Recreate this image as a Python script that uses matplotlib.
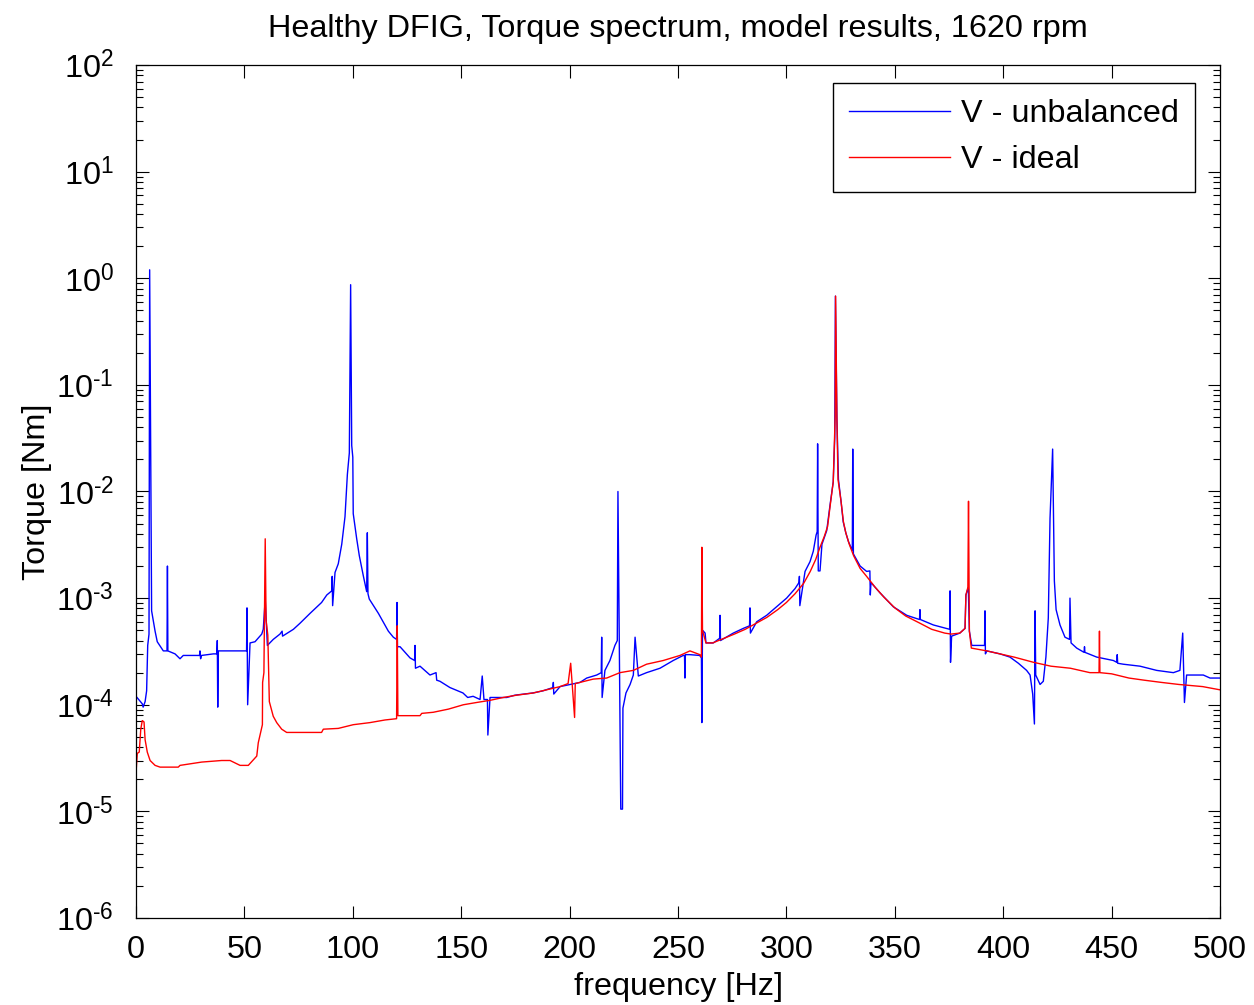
import matplotlib
matplotlib.use("Agg")
import matplotlib.pyplot as plt
from matplotlib.ticker import LogLocator, FixedLocator, FuncFormatter, NullFormatter
import numpy as np

# ---------------- data ----------------
freq_unbalanced = [
    0, 2.9, 3.3, 4.2, 4.9, 5.4, 6.0, 6.3, 7.2, 8.8, 9.8, 12.6, 14.3, 14.5, 14.7,
    18, 20.3, 21.8, 29.3, 29.5, 29.8, 30.2, 35.7, 37.3, 37.5, 37.7, 38.0, 41,
    51.0, 51.2, 51.5, 52.6, 54.9, 58, 58.7, 59.6, 60.6, 63.3, 66.4, 67.4, 67.6,
    72.6, 75.6, 80.3, 85.6, 88, 90.3, 90.5, 90.7, 91.8, 93.3, 94.9, 96.4, 97.5,
    98.4, 99.0, 99.5, 100.0, 100.2, 101.8, 103, 104.9, 106.4, 106.7, 107.0,
    107.6, 111.8, 114, 116.4, 118.7, 120.2, 120.4, 120.6, 121.8, 126.4, 128.5,
    128.7, 128.9, 131, 135.6, 138.4, 138.7, 140.2, 144.8, 150.8, 153, 155.5,
    158.7, 159.7, 160.5, 162.1, 162.3, 163.3, 171, 174.8, 183.1, 187.7, 192.3,
    192.5, 192.7, 195.6, 200.2, 204.8, 207.9, 212.5, 214.6, 214.8, 215.0, 216.3,
    218.6, 220.9, 222.0, 222.3, 223.6, 224.4, 224.6, 226, 227.9, 229.4, 230.2,
    231.7, 235.5, 241.7, 247.8, 252.4, 253.0, 253.2, 253.4, 255.5, 260, 260.8,
    261.0, 261.3, 262.5, 262.9, 266.3, 269.2, 269.4, 269.6, 275.5, 280.1, 283.0,
    283.2, 283.4, 286.3, 290.9, 295.5, 300.1, 304, 305.8, 306.0, 306.2, 308.6,
    310.9, 312.4, 313.7, 314.2, 314.4, 314.7, 315.5, 316.4, 318.6, 320.1, 321.6,
    322.3, 322.6, 323.3, 324, 325.2, 326.2, 327.4, 328.6, 330.4, 330.6, 330.9,
    334, 337, 338.5, 338.7, 339, 343.2, 349.3, 355.5, 361.4, 361.6, 361.8, 367.8,
    373.9, 375.3, 375.5, 375.7, 376.2, 380, 382.4, 382.8, 383.9, 384.4, 385.5,
    390.8, 391.4, 391.6, 391.8, 392.4, 398.5, 403.1, 407, 410.8, 412.4, 413.6,
    414.4, 414.7, 415.0, 417, 418.5, 419.7, 420.8, 421.6, 422.8, 423.6, 424.4,
    426.2, 428.5, 430.6, 430.8, 431.3, 433.9, 437.3, 437.5, 437.7, 443.1, 450.8,
    452.4, 452.6, 452.8, 455.4, 463.1, 470.8, 478.5, 481.5, 482.8, 483.6, 484.6,
    492.3, 495.4, 500,
]
torque_unbalanced = [
    1.2e-4, 1.02e-4, 9.5e-5, 1.07e-4, 1.35e-4, 3.6e-4, 4.6e-4, 1.2, 7.6e-4, 4.9e-4, 3.9e-4, 3.2e-4, 3.2e-4, 2.0e-3, 3.2e-4,
    3.0e-4, 2.7e-4, 2.9e-4, 2.9e-4, 3.2e-4, 2.7e-4, 2.9e-4, 3.0e-4, 3.0e-4, 4.0e-4, 9.5e-5, 3.2e-4, 3.2e-4,
    3.2e-4, 8.1e-4, 1.0e-4, 3.8e-4, 3.9e-4, 4.6e-4, 5.1e-4, 9.8e-4, 3.6e-4, 4.1e-4, 4.6e-4, 4.9e-4, 4.4e-4,
    5.1e-4, 5.8e-4, 7.2e-4, 9.1e-4, 1.07e-3, 1.17e-3, 1.6e-3, 8.5e-4, 1.74e-3, 2.1e-3, 3.2e-3, 5.8e-3, 1.45e-2,
    2.3e-2, 0.87, 2.7e-2, 2.1e-2, 6.2e-3, 3.6e-3, 2.5e-3, 1.6e-3, 1.15e-3, 4.1e-3, 1.1e-3,
    9.8e-4, 7.2e-4, 6.0e-4, 4.9e-4, 4.3e-4, 4.1e-4, 9.1e-4, 3.5e-4, 3.5e-4, 2.75e-4, 2.6e-4,
    3.6e-4, 2.2e-4, 2.3e-4, 1.9e-4, 2.0e-4, 1.7e-4, 1.66e-4, 1.45e-4, 1.29e-4, 1.17e-4, 1.2e-4,
    1.12e-4, 1.86e-4, 1.12e-4, 1.12e-4, 5.2e-5, 1.17e-4, 1.17e-4, 1.23e-4, 1.29e-4, 1.35e-4, 1.45e-4,
    1.62e-4, 1.26e-4, 1.48e-4, 1.55e-4, 1.62e-4, 1.78e-4, 1.9e-4, 2.0e-4, 4.3e-4, 1.17e-4, 2.1e-4,
    2.6e-4, 3.6e-4, 4.0e-4, 1.0e-2, 1.05e-5, 1.05e-5, 9.3e-5, 1.29e-4, 1.55e-4, 1.9e-4, 4.3e-4,
    1.86e-4, 2.0e-4, 2.2e-4, 2.6e-4, 2.9e-4, 2.9e-4, 1.78e-4, 2.95e-4, 2.95e-4, 2.9e-4, 2.75e-4,
    6.8e-5, 5.0e-4, 4.7e-4, 3.8e-4, 3.8e-4, 4.2e-4, 6.9e-4, 4.0e-4, 4.7e-4, 5.2e-4, 5.5e-4,
    8.1e-4, 4.7e-4, 6.0e-4, 6.9e-4, 8.3e-4, 1.0e-3, 1.23e-3, 1.4e-3, 1.6e-3, 8.5e-4, 1.78e-3,
    2.2e-3, 2.75e-3, 3.9e-3, 4.2e-3, 2.8e-2, 1.8e-3, 1.8e-3, 3.2e-3, 4.3e-3, 7.4e-3, 1.23e-2,
    3.2e-2, 0.68, 4.8e-2, 1.3e-2, 8.1e-3, 5.2e-3, 4.1e-3, 3.4e-3, 2.8e-3, 2.5e-2, 2.6e-3,
    2.0e-3, 1.78e-3, 1.8e-3, 1.07e-3, 1.4e-3, 1.12e-3, 8.3e-4, 6.9e-4, 6.3e-4, 7.8e-4, 6.3e-4, 5.6e-4,
    5.2e-4, 5.1e-4, 1.17e-3, 2.5e-4, 4.4e-4, 4.7e-4, 5.2e-4, 1.07e-3, 1.26e-3, 4.9e-4, 3.6e-4,
    3.6e-4, 3.6e-4, 7.6e-4, 3.0e-4, 3.2e-4, 3.0e-4, 2.8e-4, 2.45e-4, 2.1e-4, 1.9e-4, 1.26e-4,
    6.6e-5, 7.6e-4, 1.9e-4, 1.55e-4, 1.66e-4, 2.8e-4, 6.5e-4, 5.6e-3, 2.5e-2, 1.45e-3, 7.8e-4,
    5.6e-4, 4.3e-4, 4.1e-4, 1.0e-3, 3.8e-4, 3.4e-4, 3.1e-4, 3.5e-4, 3.1e-4, 2.8e-4, 2.6e-4,
    2.5e-4, 2.95e-4, 2.45e-4, 2.4e-4, 2.3e-4, 2.1e-4, 2.0e-4, 2.1e-4, 4.7e-4, 1.05e-4, 1.9e-4,
    1.9e-4, 1.78e-4, 1.78e-4,
]

freq_ideal = [
    0, 0.6, 1.5, 2.2, 2.9, 3.7, 4.2, 5.2, 6.5, 8.8, 11.1, 19.5, 20.3, 30.3, 39.5,
    43.4, 44.9, 48, 51.8, 55.7, 56.4, 58.3, 58.4, 59.0, 59.6, 60.0, 60.8, 61.5,
    63.3, 64.9, 67.2, 69.5, 85.6, 86.4, 93.3, 100.2, 107.9, 114.9, 120.2, 120.5,
    120.8, 131, 131.8, 137.1, 144.1, 151, 157.1, 163.3, 169.4, 175.6, 183.3,
    189.4, 195.6, 199.3, 200.5, 202.3, 202.6, 204.8, 210.9, 217.1, 223.2, 229.4,
    235.5, 243.2, 250.9, 255.5, 260.1, 260.8, 261.0, 261.3, 262.9, 266, 270, 276,
    281, 286, 291, 296, 300, 304, 308, 311, 313.5, 315.5, 317.5, 319, 320.2,
    321.6, 322.2, 322.5, 322.7, 323.3, 323.8, 325.2, 326.3, 327.4, 329, 331, 334,
    337, 341, 345, 350, 355, 361, 367, 373, 376, 380, 382.4, 382.8, 383.7, 384.0,
    384.4, 385.3, 392.4, 398.5, 405, 414, 422, 431, 440, 444.2, 444.4, 444.6, 450,
    458, 465, 473, 481, 492, 500,
]
torque_ideal = [
    2.3e-5, 3.5e-5, 3.6e-5, 5.9e-5, 7.1e-5, 6.9e-5, 4.7e-5, 3.6e-5, 3.0e-5, 2.7e-5, 2.6e-5, 2.6e-5, 2.7e-5, 2.9e-5, 3.0e-5,
    3.0e-5, 2.9e-5, 2.7e-5, 2.7e-5, 3.3e-5, 4.4e-5, 6.5e-5, 1.62e-4, 2.0e-4, 3.6e-3, 6.2e-4, 4.5e-4, 1.07e-4,
    7.8e-5, 6.8e-5, 5.9e-5, 5.5e-5, 5.5e-5, 5.9e-5, 6.0e-5, 6.5e-5, 6.8e-5, 7.2e-5, 7.4e-5, 5.5e-4,
    7.9e-5, 7.9e-5, 8.3e-5, 8.5e-5, 9.1e-5, 1.0e-4, 1.05e-4, 1.1e-4, 1.17e-4, 1.23e-4, 1.29e-4,
    1.38e-4, 1.48e-4, 1.58e-4, 2.45e-4, 7.6e-5, 1.58e-4, 1.62e-4, 1.74e-4, 1.78e-4, 2.0e-4, 2.1e-4,
    2.4e-4, 2.6e-4, 2.9e-4, 3.2e-4, 2.95e-4, 2.8e-4, 3.0e-3, 5.0e-4, 3.8e-4, 3.8e-4, 4.1e-4, 4.6e-4,
    5.1e-4, 5.8e-4, 6.6e-4, 7.8e-4, 9.1e-4, 1.1e-3, 1.38e-3, 1.78e-3, 2.3e-3, 3.0e-3, 3.8e-3, 4.7e-3, 7.4e-3,
    1.23e-2, 3.2e-2, 5.1e-2, 0.68, 4.8e-2, 1.3e-2, 8.1e-3, 5.2e-3, 4.1e-3, 3.2e-3, 2.5e-3, 1.9e-3,
    1.6e-3, 1.26e-3, 1.02e-3, 8.1e-4, 6.8e-4, 5.9e-4, 5.1e-4, 4.7e-4, 4.6e-4, 4.7e-4, 5.2e-4, 1.07e-3, 1.26e-3, 8.1e-3,
    4.9e-4, 3.4e-4, 3.2e-4, 3.0e-4, 2.8e-4, 2.5e-4, 2.3e-4, 2.2e-4, 2.0e-4, 2.0e-4, 4.9e-4, 2.0e-4, 1.95e-4,
    1.78e-4, 1.7e-4, 1.62e-4, 1.55e-4, 1.48e-4, 1.38e-4,
]

x_ticks = [0, 50, 100, 150, 200, 250, 300, 350, 400, 450, 500]
y_ticks = [1e-6, 1e-5, 1e-4, 1e-3, 1e-2, 1e-1, 1e0, 1e1, 1e2]
series_labels = ["V - unbalanced", "V - ideal"]
title_text = "Healthy DFIG, Torque spectrum, model results, 1620 rpm"
x_label = "frequency [Hz]"
y_label = "Torque [Nm]"

# ---------------- style ----------------
plt.rcParams['font.family'] = ['Liberation Sans', 'DejaVu Sans']
plt.rcParams['mathtext.fontset'] = 'custom'
plt.rcParams['mathtext.rm'] = 'Liberation Sans'
plt.rcParams['mathtext.it'] = 'Liberation Sans'
plt.rcParams['axes.unicode_minus'] = False
FS = 23.3

fig = plt.figure(figsize=(12.54, 10.05), dpi=100)
fig.patch.set_facecolor('white')
ax = fig.add_axes([136/1254, 1 - 918/1005, (1220-136)/1254, (918-65)/1005])

ax.plot(freq_unbalanced, torque_unbalanced, color=(0, 0, 1), lw=1.0, label=series_labels[0])
ax.plot(freq_ideal, torque_ideal, color=(1, 0, 0), lw=1.0, label=series_labels[1])


def decade_label(v, pos):
    e = int(round(np.log10(v)))
    return r"$\mathdefault{10^{\text{%d}}}$" % e


ax.set_yscale('log')
ax.set_xlim(0, 500)
ax.set_ylim(1e-6, 1e2)
ax.xaxis.set_major_locator(FixedLocator(x_ticks))
ax.yaxis.set_major_locator(FixedLocator(y_ticks))
ax.yaxis.set_minor_locator(LogLocator(base=10, subs=range(2, 10), numticks=20))
ax.yaxis.set_major_formatter(FuncFormatter(decade_label))
ax.yaxis.set_minor_formatter(NullFormatter())

ax.tick_params(axis='both', which='major', direction='in', length=9, width=0.8,
               top=True, right=True, labelsize=FS, color='black')
ax.tick_params(axis='y', which='minor', direction='in', length=5, width=0.8,
               left=True, right=True, labelleft=False, labelright=False)
ax.tick_params(axis='x', which='major', pad=12)
ax.tick_params(axis='y', which='major', pad=16)
for sp in ax.spines.values():
    sp.set_linewidth(0.9)
    sp.set_color('black')

ax.set_title(title_text, fontsize=FS, pad=20)
ax.set_xlabel(x_label, fontsize=FS, labelpad=5)
ax.set_ylabel(y_label, fontsize=FS, labelpad=3)

leg = ax.legend(loc='upper right', bbox_to_anchor=(1059/1084, 1 - 18/853), fontsize=FS,
                frameon=True, fancybox=False, edgecolor='black', framealpha=1,
                handlelength=3.1, handletextpad=0.35, borderpad=0.5,
                labelspacing=0.5, borderaxespad=0)
leg.get_frame().set_linewidth(1.0)

fig.savefig('out.png', dpi=100, facecolor='white')
